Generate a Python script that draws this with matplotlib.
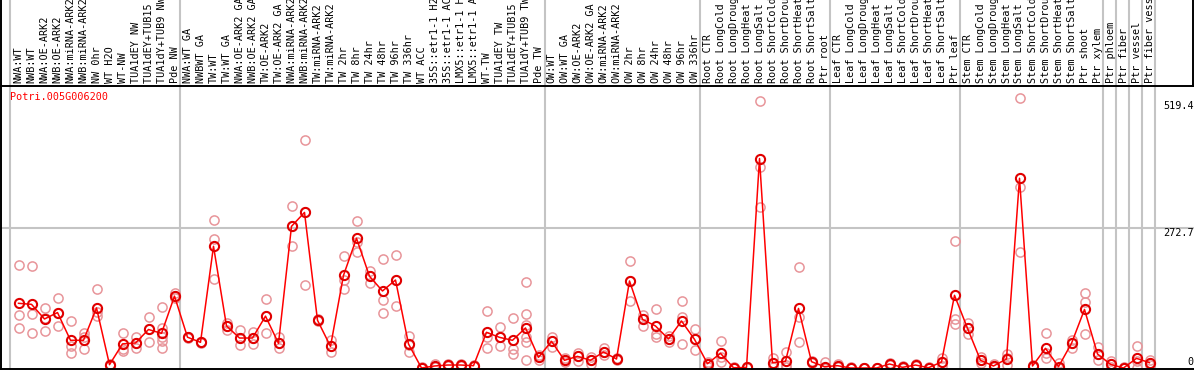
"""Expression profile chart for Potri.005G006200 across poplar samples."""
import matplotlib
matplotlib.use("Agg")
import matplotlib.pyplot as plt
from matplotlib.lines import Line2D

W, H = 1194, 370
HEADER = 85.5  # px height of the label strip

GENE = "Potri.005G006200"

labels = [
    "NWA:WT", "NWB:WT", "NWA:OE-ARK2", "NWB:OE-ARK2", "NWA:miRNA-ARK2",
    "NWB:miRNA-ARK2", "NW 0hr", "WT H2O", "WT-NW", "TUA1dEY NW",
    "TUA1dEY+TUB15 NW", "TUA1dY+TUB9 NW", "Pde NW", "NWA:WT GA", "NWBWT GA",
    "TW:WT", "TW:WT GA", "NWA:OE-ARK2 GA", "NWB:OE-ARK2 GA", "TW:OE-ARK2",
    "TW:OE-ARK2 GA", "NWA:miRNA-ARK2 GA", "NWB:miRNA-ARK2 GA", "TW:miRNA-ARK2",
    "TW:miRNA-ARK2 GA", "TW 2hr", "TW 8hr", "TW 24hr", "TW 48hr", "TW 96hr",
    "TW 336hr", "WT ACC", "35S::etr1-1 H2O", "35S::etr1-1 ACC",
    "LMX5::etr1-1 H2O", "LMX5::etr1-1 ACC", "WT-TW", "TUA1dEY TW",
    "TUA1dEY+TUB15 TW", "TUA1dY+TUB9 TW", "Pde TW", "OW:WT", "OW:WT GA",
    "OW:OE-ARK2", "OW:OE-ARK2 GA", "OW:miRNA-ARK2", "OW:miRNA-ARK2 GA",
    "OW 2hr", "OW 8hr", "OW 24hr", "OW 48hr", "OW 96hr", "OW 336hr",
    "Root CTR", "Root LongCold", "Root LongDrought", "Root LongHeat",
    "Root LongSalt", "Root ShortCold", "Root ShortDrought", "Root ShortHeat",
    "Root ShortSalt", "Ptr root", "Leaf CTR", "Leaf LongCold",
    "Leaf LongDrought", "Leaf LongHeat", "Leaf LongSalt", "Leaf ShortCold",
    "Leaf ShortDrought", "Leaf ShortHeat", "Leaf ShortSalt", "Ptr leaf",
    "Stem CTR", "Stem LongCold", "Stem LongDrought", "Stem LongHeat",
    "Stem LongSalt", "Stem ShortCold", "Stem ShortDrought", "Stem ShortHeat",
    "Stem ShortSalt", "Ptr shoot", "Ptr xylem", "Ptr phloem", "Ptr fiber",
    "Ptr vessel", "Ptr fiber vessel",
]

means = [
    126, 124, 95.5, 108, 54, 54, 117, 6.5, 47, 48.7,
    75, 67.5, 140, 60, 50, 237, 82, 58.4, 58.4, 101,
    48, 276, 303, 93, 42, 180.5, 252.6, 178.6, 150, 171.4,
    46.8, 0, 3.9, 5.8, 5.8, 4.5, 69.5, 59.7, 53.9, 78,
    20.8, 52, 15, 22.7, 15, 31.2, 17.5, 169.5, 94.8, 81.8,
    56.5, 91.6, 55.8, 8.4, 28.6, 0.5, 1, 408, 10.4, 13,
    116, 12.3, 2.6, 4.5, 0, 0, 0, 7.8, 1.3, 5.8,
    0.5, 11.7, 141.6, 77.3, 15, 3.9, 17.5, 369.5, 3.9, 38.3,
    2.6, 48, 114, 27.3, 7.1, 0, 18.8, 10.4,
]

replicates = [
    [200, 103, 77], [198, 104.5, 67.5], [116, 97.5, 73], [135.7, 108, 81.8],
    [90.9, 43.5, 29.2], [68.2, 61, 36.4], [153, 110, 102], [8, 5, 6],
    [67.5, 36.4, 33.8], [61, 48, 38.3], [99.4, 75, 50],
    [118.8, 77.3, 61, 53, 39], [146.8, 140, 135.7], [61, 59.7, 58.4],
    [51, 50, 48.7], [287.7, 250.6, 172.7], [87, 81.8, 74], [74, 58.4, 44.8],
    [70, 58.4, 46], [134.4, 101, 67.5], [59.7, 48, 39.6], [315, 276, 238],
    [445, 303, 161], [95, 93, 91], [54.5, 42, 30.5], [217.5, 171, 153],
    [286, 246, 225], [189.6, 178.6, 165], [211.7, 132.5, 106.5],
    [220, 171.4, 120], [63, 45.6, 31.8], [2.6, 0, 0], [7.1, 2.6, 2],
    [8.4, 5.8, 3.2], [7, 5.8, 4.5], [5.8, 4.5, 3.2], [111, 61, 38.3],
    [79, 61, 43.5], [97.4, 36.4, 27.3], [167.5, 104.5, 83.8, 61, 51, 15],
    [25.3, 20.8, 15.6], [61, 52, 41.6], [19, 15, 11], [29.9, 22.7, 13.6],
    [22, 15, 7.1], [38.3, 31.2, 25.3], [19, 17.5, 16], [207.8, 170, 130.5],
    [103, 94.8, 81.8], [115, 66, 61], [62, 56.5, 50], [130.5, 100, 46.8],
    [76, 55.8, 35], [12.3, 8.4, 2.6], [52, 22, 11.7], [2.6, 0, 0],
    [2, 1, 0], [520, 391, 314], [18.8, 10.4, 2], [30.5, 6, 2.6],
    [196, 98.7, 50], [14, 12.3, 10], [12.3, 0, 0], [8, 4.5, 1], [1, 0, 0],
    [0, 0, 0], [0, 0, 0], [10, 7.8, 5], [3, 1.3, 0], [8, 5.8, 3],
    [1, 0.5, 0], [20, 11.7, 3], [247.4, 94.8, 85.7], [88.3, 77.3, 66],
    [22, 15, 9], [7, 3.9, 1], [26.6, 20, 5.8], [525, 353, 226.5],
    [5, 3.9, 2.5], [67.5, 28.6, 20], [10.4, 0, 0], [54.5, 48, 39.6],
    [145.5, 128.6, 66], [41.6, 27.3, 15.6], [13.6, 7.1, 1], [1, 0, 0],
    [42.9, 13, 0], [15.6, 10.4, 5.2],
]

# group separators (between sample sets)
separators = [-0.65, 12.45, 40.5, 52.45, 62.45, 72.45,
              83.45, 84.45, 85.45, 86.45, 87.45]
ytick_vals = [519.4, 272.7, 0]

# pixel geometry -> data limits
X0, DX = 18.5, 13.0
ZERO_Y, PX_PER_UNIT = 368.0, 0.5134
xlim = (-X0 / DX, (W - X0) / DX)
ylim = (-(H - ZERO_Y) / PX_PER_UNIT, (ZERO_Y - HEADER) / PX_PER_UNIT)

MONO = "DejaVu Sans Mono"
GRID = "#c4c4c4"
REP = "#e8959a"

fig = plt.figure(figsize=(W / 100, H / 100), dpi=100)
ax = fig.add_axes([0, 0, 1, (H - HEADER) / H])
hd = fig.add_axes([0, (H - HEADER) / H, 1, HEADER / H])

for a in (ax, hd):
    a.set_xlim(*xlim)
    a.axis("off")
    for s in separators:
        a.axvline(s, color=GRID, lw=1.5, zorder=0)
ax.set_ylim(*ylim)
hd.set_ylim(0, HEADER)

ax.axhline(272.7, color=GRID, lw=1.5, zorder=0)

xs = list(range(len(means)))
for i, reps in enumerate(replicates):
    ax.plot([i] * len(reps), reps, ls="none", marker="o", ms=6.6,
            mfc="none", mec=REP, mew=1.1, zorder=2, clip_on=False)
ax.plot(xs, means, color="red", lw=1.1, zorder=3)
ax.plot(xs, means, ls="none", marker="o", ms=6.6, mfc="none",
        mec="#e00000", mew=1.5, zorder=4, clip_on=False)

for i, lab in enumerate(labels):
    hd.text(i, HEADER - 83, lab, rotation=90, ha="center", va="bottom",
            family=MONO, fontsize=7.3, color="black")

ax.text(10 / W * (xlim[1] - xlim[0]) + xlim[0], (ZERO_Y - 97) / PX_PER_UNIT,
        GENE, ha="left", va="center", family=MONO, fontsize=7.3, color="red")

for v in ytick_vals:
    va = "bottom" if v == 0 else "top"
    yy = 2 if v == 0 else v
    ax.text(xlim[1] - 0.02, yy, f"{v:g}", ha="right", va=va,
            family=MONO, fontsize=7.3, color="black")

# frame lines
def fig_line(x0, y0, x1, y1):
    fig.add_artist(Line2D([x0 / W, x1 / W], [1 - y0 / H, 1 - y1 / H],
                          color="black", lw=1.4, transform=fig.transFigure))

fig_line(1, 0, 1, H)
fig_line(W - 1, 0, W - 1, HEADER)
fig_line(0, HEADER, W, HEADER)
fig_line(0, H - 1, W, H - 1)

fig.savefig("out.png", dpi=100, facecolor="white")
